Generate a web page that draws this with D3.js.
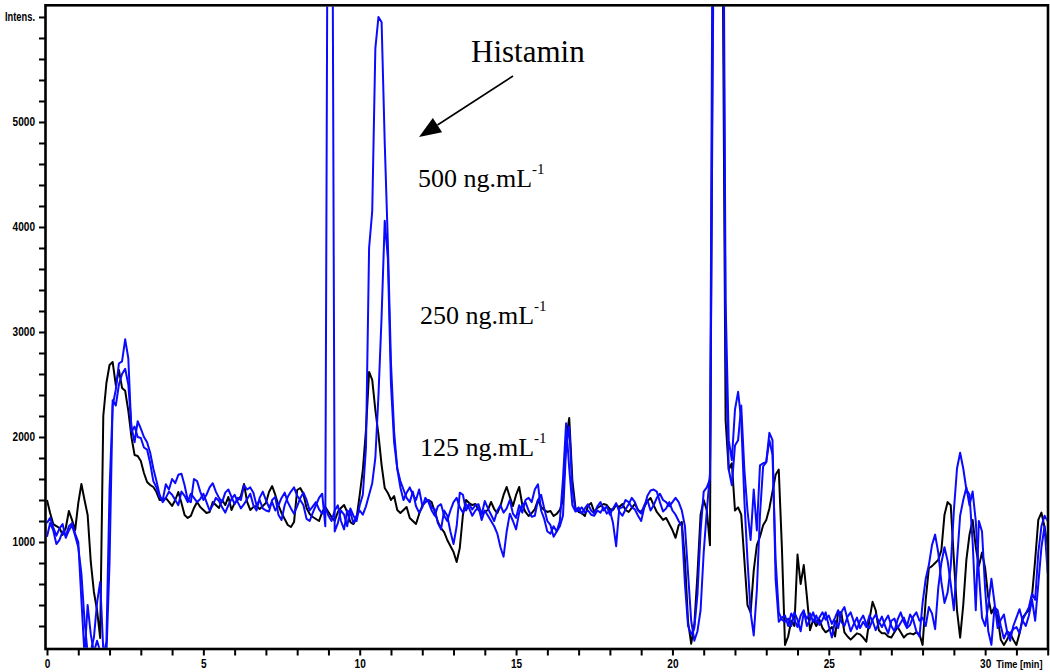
<!DOCTYPE html>
<html>
<head>
<meta charset="utf-8">
<script src="https://cdn.jsdelivr.net/npm/d3@7"></script>
<style>
  body { margin: 0; background: #fff; }
  .axis text, .unit { font-family: "Liberation Sans Narrow", "Liberation Sans", Arial, sans-serif; font-weight: bold; font-size: 12px; fill: #000; }
  .axis line { stroke: #000; stroke-width: 2px; }
  .note { font-family: "Liberation Serif", "Times New Roman", serif; fill: #000; }
</style>
</head>
<body>
<svg id="chart" width="1050" height="672"></svg>
<script>
// Extracted ion chromatograms, sampled every 0.1 min from 0.0 to 32.0 min (321 points each)
const STEP = 0.1;

// 125 ng.mL-1 standard
const black = [
  1400, 1276, 1171, 1152, 1133, 1067, 1133, 1295, 1210, 1114,
  1371, 1552, 1400, 1257, 810, 524, 352, 86, 2200, 2514,
  2686, 2714, 2495, 2638, 2467, 2440, 2250, 2000, 1829, 1819,
  1771, 1657, 1571, 1543, 1524, 1476, 1400, 1400, 1419, 1381,
  1343, 1400, 1476, 1371, 1257, 1229, 1248, 1324, 1381, 1333,
  1305, 1276, 1286, 1381, 1352, 1324, 1400, 1352, 1429, 1305,
  1371, 1400, 1438, 1552, 1381, 1305, 1333, 1343, 1314, 1343,
  1371, 1476, 1533, 1448, 1352, 1276, 1219, 1162, 1143, 1190,
  1495, 1514, 1457, 1324, 1267, 1238, 1219, 1200, 1286, 1333,
  1286, 1238, 1200, 1286, 1324, 1352, 1286, 1190, 1171, 1229,
  1448, 1686, 2067, 2620, 2543, 2257, 2019, 1733, 1514, 1467,
  1400, 1438, 1305, 1276, 1305, 1333, 1229, 1200, 1171, 1267,
  1343, 1381, 1400, 1381, 1286, 1190, 1133, 1095, 1019, 962,
  905, 810, 943, 1257, 1400, 1371, 1352, 1362, 1305, 1276,
  1286, 1305, 1381, 1314, 1276, 1343, 1448, 1524, 1429, 1343,
  1448, 1524, 1352, 1286, 1248, 1276, 1314, 1400, 1333, 1305,
  1286, 1295, 1248, 1267, 1305, 1400, 1971, 2181, 1590, 1324,
  1286, 1276, 1248, 1343, 1371, 1286, 1324, 1343, 1362, 1352,
  1314, 1305, 1352, 1333, 1362, 1305, 1286, 1324, 1362, 1305,
  1286, 1333, 1390, 1419, 1352, 1286, 1248, 1210, 1229, 1171,
  1114, 1040, 1160, 1190, 830, 240, 30, 210, 690, 1260,
  1400, 1300, 970, 7000, 11000, 10000, 7000, 2160, 1690, 1750,
  1300, 1330, 1260, 830, 400, 330, 730, 970, 1050, 1160,
  1210, 1320, 1480, 1640, 1690, 950, 20, 100, 250, 200,
  880, 600, 780, 480, 160, 260, 200, 260, 180, 140,
  160, 190, 100, 330, 330, 140, 100, 70, 100, 130,
  120, 90, 50, 260, 430, 350, 160, 130, 130, 100,
  90, 140, 190, 140, 90, 120, 130, 120, 140, 120,
  20, 450, 750, 770, 800, 830, 920, 1260, 1380, 1350,
  830, 350, 90, 400, 830, 1070, 1210, 950, 770, 900,
  750, 470, 320, 380, 280, 70, 20, 70, 130, 70,
  20, 130, 280, 320, 350, 490, 830, 1210, 1280, 1140,
  970
];

// 500 ng.mL-1 standard
const blue500 = [
  1050, 1180, 1110, 980, 1020, 1100, 1060, 1150, 1180, 1080,
  1000, 450, -80, 400, 120, -50, 60, -40, -80, 50,
  1500, 2300, 2450, 2700, 2720, 2930, 2750, 2050, 2100, 2000,
  1990, 1900, 1880, 1750, 1580, 1520, 1430, 1400, 1550, 1500,
  1600, 1560, 1640, 1650, 1540, 1400, 1380, 1600, 1580, 1480,
  1400, 1450, 1520, 1560, 1480, 1420, 1380, 1470, 1500, 1430,
  1360, 1420, 1400, 1540, 1500, 1520, 1470, 1350, 1400, 1320,
  1300, 1290, 1400, 1430, 1260, 1210, 1350, 1430, 1480, 1520,
  1440, 1400, 1350, 1220, 1200, 1280, 1350, 1420, 1460, 1150,
  9500, 9500, 1100, 1180, 1300, 1260, 1150, 1320, 1250, 1200,
  1350, 1450, 1900, 3800, 4150, 5700, 6000, 5950, 4800, 3850,
  2700, 2050, 1700, 1520, 1400, 1470, 1520, 1450, 1400, 1500,
  1350, 1380, 1400, 1330, 1310, 1180, 1120, 1300, 1250, 1100,
  980, 1150, 1470, 1450, 1300, 1360, 1310, 1350, 1360, 1260,
  1390, 1320, 1260, 1200, 1300, 1350, 1280, 1320, 1400, 1270,
  1230, 1350, 1280, 1400, 1420, 1380, 1500, 1550, 1300, 1220,
  1100, 1080, 1150, 1100, 1200, 1600, 2130, 1700, 1350, 1290,
  1300, 1330, 1280, 1300, 1260, 1250, 1300, 1280, 1330, 1270,
  1300, 1180, 960, 1320, 1330, 1400, 1380, 1330, 1310, 1250,
  1200, 1330, 1440, 1490, 1500, 1480, 1380, 1290, 1320, 1380,
  1300, 1260, 1200, 1150, 600, 200, 120, 180, 500, 1100,
  1480, 1520, 1600, 8000, 12000, 12000, 8000, 2830, 1690, 1540,
  1920, 1970, 2300, 1690, 1300, 1020, 1500, 1110, 1730, 1750,
  1760, 1970, 1830, 830, 330, 260, 240, 270, 200, 330,
  260, 150, 330, 270, 320, 240, 300, 210, 260, 330,
  200, 90, 250, 180, 330, 380, 260, 150, 220, 280,
  180, 240, 190, 300, 250, 160, 230, 290, 200, 130,
  250, 270, 180, 230, 280, 200, 310, 260, 150, 100,
  420, 650, 780, 970, 1070, 900, 620, 420, 520, 770,
  1300, 1700, 1850, 1700, 1500, 1450, 1000, 350, 1200, 1100,
  550, 150, 20, 380, 350, 200, 80, 150, 130, 170,
  190, 130, 260, 320, 380, 510, 450, 900, 1150, 1250,
  1200
];

// 250 ng.mL-1 standard
const blue250 = [
  1180, 1230, 1140, 1060, 1130, 1170, 1040, 1110, 1160, 1060,
  950, 700, 250, -60, -40, 90, 420, 620, -30, -70,
  800, 2350, 2300, 2500, 2600, 2650, 2500, 2100, 1950, 2150,
  2080, 2000, 1950, 1850, 1700, 1580, 1450, 1380, 1420, 1480,
  1450, 1400, 1350, 1480, 1440, 1380, 1460, 1420, 1380, 1410,
  1460, 1380, 1300, 1350, 1420, 1390, 1330, 1280, 1350, 1410,
  1450, 1380, 1320, 1360, 1410, 1460, 1350, 1300, 1420, 1480,
  1400, 1330, 1380, 1300, 1350, 1420, 1470, 1380, 1320, 1270,
  1340, 1420, 1470, 1400, 1300, 1340, 1380, 1310, 1270, 1330,
  1250, 1200, 1300, 1350, 1200, 1120, 1300, 1280, 1180, 1250,
  1300, 1260, 1340, 1450, 1560, 1800, 2400, 3150, 4060, 3700,
  2500, 1950, 1700, 1580, 1500, 1420, 1380, 1480, 1340, 1280,
  1330, 1420, 1380, 1300, 1250, 1340, 1360, 1250, 1200, 1300,
  1380, 1420, 1330, 1280, 1360, 1320, 1250, 1300, 1330, 1210,
  1300, 1250, 1200, 1150, 1080, 950, 860, 1100, 1270, 1200,
  1120, 1280, 1350, 1380, 1300, 1240, 1250, 1400, 1450, 1320,
  1200, 1160, 1050, 1100, 1150, 1250, 1900, 2100, 1500, 1300,
  1330, 1270, 1320, 1360, 1300, 1270, 1340, 1380, 1300, 1340,
  1260, 1320, 1370, 1290, 1250, 1310, 1360, 1420, 1380, 1300,
  1270, 1350, 1400, 1300, 1350, 1420, 1460, 1400, 1380, 1340,
  1380, 1420, 1380, 1300, 1150, 700, 250, 60, 150, 350,
  900, 1300, 1650, 6000, 12000, 12000, 9000, 3300, 1970, 1780,
  2260, 2430, 2160, 1400, 830, 330, 110, 540, 1260, 1720,
  1760, 2040, 1970, 640, 240, 280, 300, 200, 320, 260,
  190, 300, 350, 200, 260, 330, 230, 280, 330, 260,
  300, 220, 280, 350, 240, 200, 290, 330, 240, 170,
  250, 300, 220, 180, 260, 310, 240, 190, 250, 300,
  200, 150, 260, 330, 240, 180, 210, 290, 330, 250,
  280, 200, 380, 320, 170, 560, 800, 950, 820, 600,
  350, 820, 1250, 1400, 1520, 1350, 1480, 1200, 700, 280,
  200, 400, 650, 420, 180, 260, 310, 150, 60, 200,
  280, 360, 250, 200, 300, 450, 250, 600, 950, 1150,
  700
];

const xLabelTicks = [0, 5, 10, 15, 20, 25, 30];
const yLabelTicks = [1000, 2000, 3000, 4000, 5000];
const yTopLabel = "Intens.";
const xUnitLabel = "Time [min]";
const compound = "Histamin";
const levels = ["500", "250", "125"];

const svg = d3.select("#chart");
const frame = { left: 45.5, right: 1048, top: 5.3, bottom: 649 };

const x = d3.scaleLinear().domain([0, 32.01]).range([47, 1048]);
const y = d3.scaleLinear().domain([0, 6114]).range([647, 5]);

svg.append("defs").append("clipPath").attr("id", "plot-clip")
  .append("rect")
  .attr("x", frame.left + 1).attr("y", frame.top + 1.2)
  .attr("width", frame.right - frame.left - 2.2)
  .attr("height", frame.bottom - frame.top - 2.4);

// traces
const line = d3.line()
  .x((d, i) => x(i * STEP))
  .y(d => y(d))
  .curve(d3.curveLinear);

const traces = svg.append("g").attr("clip-path", "url(#plot-clip)");
[[black, "#000000"], [blue250, "#0a0aff"], [blue500, "#0a0aff"]].forEach(([vals, col]) => {
  traces.append("path")
    .datum(vals)
    .attr("d", line)
    .attr("fill", "none")
    .attr("stroke", col)
    .attr("stroke-width", 2)
    .attr("stroke-linejoin", "round");
});

// frame
svg.append("rect")
  .attr("x", frame.left).attr("y", frame.top)
  .attr("width", frame.right - frame.left)
  .attr("height", frame.bottom - frame.top)
  .attr("fill", "none").attr("stroke", "#000").attr("stroke-width", 2.6);

// condensed look for the axis labels
function condense(sel) {
  sel.each(function () {
    const s = this.textContent;
    if (!s) return;
    const w = s === yTopLabel ? 30 : s.length * 5.6;
    d3.select(this).attr("textLength", w).attr("lengthAdjust", "spacingAndGlyphs");
  });
}

// y axis: minor ticks every 200, labels at the thousands
const yAxis = d3.axisLeft(y)
  .tickValues(d3.range(200, 6001, 200))
  .tickSize(6)
  .tickPadding(4)
  .tickFormat(v => v === 6000 ? yTopLabel : (yLabelTicks.includes(v) ? String(v) : ""));
const gy = svg.append("g").attr("class", "axis")
  .attr("transform", `translate(${frame.left - 0.5},0)`)
  .call(yAxis);
gy.select(".domain").remove();
gy.selectAll("text").call(condense);

// x axis: minor ticks every minute, labels every 5 min
const xAxis = d3.axisBottom(x)
  .tickValues(d3.range(0, 33, 1))
  .tickSize(6)
  .tickPadding(3.5)
  .tickFormat(v => xLabelTicks.includes(v) ? String(v) : "");
const gx = svg.append("g").attr("class", "axis")
  .attr("transform", `translate(0,${frame.bottom + 0.5})`)
  .call(xAxis);
gx.select(".domain").remove();
gx.selectAll("text").call(condense);

// axis unit, horizontally squeezed to sit inside the right edge
svg.append("text").attr("class", "unit")
  .attr("transform", `translate(${x(30) + 11},667.5) scale(0.8,1)`)
  .style("font-size", "11.5px")
  .text(xUnitLabel);

// annotations
svg.append("text").attr("class", "note")
  .attr("x", 471).attr("y", 62).style("font-size", "31px")
  .text(compound);

const tail = [513, 76], tip = [419, 137];
const ang = Math.atan2(tip[1] - tail[1], tip[0] - tail[0]);
const headLen = 22, headHalf = 8.5;
const base = [tip[0] - headLen * Math.cos(ang), tip[1] - headLen * Math.sin(ang)];
svg.append("line")
  .attr("x1", tail[0]).attr("y1", tail[1])
  .attr("x2", base[0]).attr("y2", base[1])
  .attr("stroke", "#000").attr("stroke-width", 1.6);
svg.append("path")
  .attr("d", d3.line()([
    tip,
    [base[0] + headHalf * Math.sin(ang), base[1] - headHalf * Math.cos(ang)],
    [base[0] - headHalf * Math.sin(ang), base[1] + headHalf * Math.cos(ang)]
  ]) + "Z")
  .attr("fill", "#000");

const labelPos = [[418, 187], [420, 324], [420, 456]];
levels.forEach((lv, i) => {
  const t = svg.append("text").attr("class", "note")
    .attr("x", labelPos[i][0]).attr("y", labelPos[i][1])
    .style("font-size", "26px");
  t.append("tspan").text(lv + " ng.mL");
  t.append("tspan").attr("dy", -13).style("font-size", "15px").text("-1");
});
</script>
</body>
</html>
